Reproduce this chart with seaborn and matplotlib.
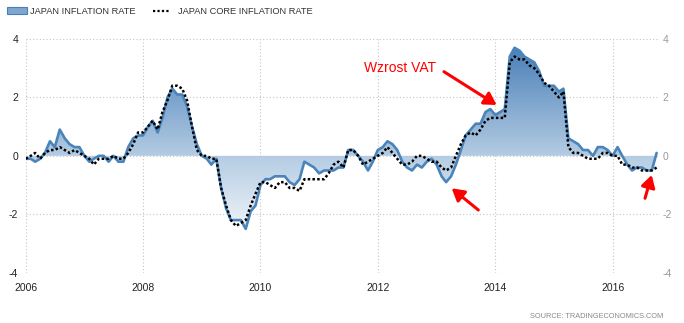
import numpy as np
import pandas as pd
import matplotlib
matplotlib.use("Agg")
import matplotlib.pyplot as plt
import matplotlib.dates as mdates
from matplotlib.colors import LinearSegmentedColormap
from matplotlib.lines import Line2D
from matplotlib.patches import Rectangle
import seaborn as sns

# ---------------- data (monthly, Jan 2006 .. Oct 2016) ----------------
start_month = "2006-01-01"
inflation = [
    -0.1, -0.1, -0.2, -0.1, 0.1, 0.5, 0.3, 0.9, 0.6, 0.4, 0.3, 0.3,      # 2006
    0.0, -0.2, -0.1, 0.0, 0.0, -0.2, 0.0, -0.2, -0.2, 0.3, 0.6, 0.7,     # 2007
    0.7, 1.0, 1.2, 0.8, 1.3, 2.0, 2.3, 2.1, 2.1, 1.7, 1.0, 0.4,          # 2008
    0.0, -0.1, -0.3, -0.1, -1.1, -1.8, -2.2, -2.2, -2.2, -2.5, -1.9, -1.7,  # 2009
    -1.0, -0.8, -0.8, -0.7, -0.7, -0.7, -0.9, -1.0, -0.8, -0.2, -0.3, -0.4,  # 2010
    -0.6, -0.5, -0.5, -0.5, -0.4, -0.4, 0.2, 0.2, 0.0, -0.2, -0.5, -0.2,  # 2011
    0.2, 0.3, 0.5, 0.4, 0.2, -0.2, -0.4, -0.5, -0.3, -0.4, -0.2, -0.1,   # 2012
    -0.3, -0.7, -0.9, -0.7, -0.3, 0.2, 0.7, 0.9, 1.1, 1.1, 1.5, 1.6,     # 2013
    1.4, 1.5, 1.6, 3.4, 3.7, 3.6, 3.4, 3.3, 3.2, 2.9, 2.4, 2.4,          # 2014
    2.4, 2.2, 2.3, 0.6, 0.5, 0.4, 0.2, 0.2, 0.0, 0.3, 0.3, 0.2,          # 2015
    0.0, 0.3, 0.0, -0.3, -0.5, -0.4, -0.4, -0.5, -0.5, 0.1,              # 2016
]
core_inflation = [
    -0.1, 0.0, 0.1, -0.1, 0.1, 0.2, 0.2, 0.3, 0.2, 0.1, 0.2, 0.1,        # 2006
    0.0, -0.1, -0.3, -0.1, -0.1, -0.1, 0.0, -0.1, -0.1, 0.1, 0.4, 0.8,   # 2007
    0.8, 1.0, 1.2, 0.9, 1.5, 1.9, 2.4, 2.4, 2.3, 1.9, 1.0, 0.2,          # 2008
    0.0, 0.0, -0.1, -0.1, -1.1, -1.7, -2.2, -2.4, -2.3, -2.2, -1.7, -1.3,  # 2009
    -0.9, -0.9, -1.0, -1.1, -0.9, -0.9, -1.1, -1.1, -1.2, -0.8, -0.8, -0.8,  # 2010
    -0.8, -0.8, -0.6, -0.3, -0.2, -0.4, 0.2, 0.2, 0.0, -0.3, -0.2, -0.1,  # 2011
    0.0, 0.1, 0.3, 0.1, -0.1, -0.3, -0.3, -0.2, 0.0, 0.0, -0.1, -0.2,    # 2012
    -0.2, -0.4, -0.5, -0.4, 0.0, 0.4, 0.7, 0.8, 0.7, 0.9, 1.2, 1.3,      # 2013
    1.3, 1.3, 1.3, 3.2, 3.4, 3.3, 3.3, 3.1, 3.0, 2.8, 2.5, 2.4,          # 2014
    2.2, 2.0, 2.2, 0.3, 0.1, 0.1, 0.0, -0.1, -0.1, -0.1, 0.1, 0.1,       # 2015
    0.0, 0.0, -0.3, -0.3, -0.4, -0.4, -0.5, -0.5, -0.5, -0.4,            # 2016
]
year_ticks = [2006, 2008, 2010, 2012, 2014, 2016]
y_ticks = [-4, -2, 0, 2, 4]
legend_labels = ["JAPAN INFLATION RATE", "JAPAN CORE INFLATION RATE"]
annotation_text = "Wzrost VAT"
source_text = "SOURCE: TRADINGECONOMICS.COM"

dates = pd.date_range(start_month, periods=len(inflation), freq="MS")
df = pd.DataFrame({"date": dates, "inflation": inflation, "core": core_inflation})

# ---------------- style ----------------
sns.set_style("white")
plt.rcParams["font.family"] = ["Liberation Sans", "DejaVu Sans"]

fig = plt.figure(figsize=(6.84, 3.23), dpi=100)
ax = fig.add_axes([25.7 / 684, 1 - 272.7 / 323, (660 - 25.7) / 684, (272.7 - 39) / 323])

blue = "#4a84ba"

# gradient area fill
fill = ax.fill_between(df["date"], df["inflation"], 0, facecolor="none", edgecolor="none")
cmap = LinearSegmentedColormap.from_list(
    "grad",
    [(0.0, "#ffffff"), (0.1875, "#eff4f9"), (0.5, "#b4cce3"),
     (0.75, "#7ba3cc"), (0.96, "#4b80b8"), (1.0, "#477cb4")],
)
x0 = mdates.date2num(pd.Timestamp("2006-01-01"))
x1 = mdates.date2num(pd.Timestamp("2016-10-22"))
grad = np.linspace(0, 1, 256).reshape(-1, 1)
im = ax.imshow(grad, extent=[x0, x1, -4, 4], origin="lower", aspect="auto",
               cmap=cmap, zorder=1, interpolation="bilinear")
im.set_clip_path(fill.get_paths()[0], transform=ax.transData)

sns.lineplot(data=df, x="date", y="inflation", color=blue, lw=1.9, ax=ax, zorder=3)
sns.lineplot(data=df, x="date", y="core", color="black", lw=1.8,
             linestyle=(0, (1, 0.9)), ax=ax, zorder=4)

ax.set_xlim(x0, x1)
ax.set_ylim(-4, 4)
ax.set_xlabel("")
ax.set_ylabel("")
ax.set_xticks([mdates.date2num(pd.Timestamp(f"{y}-01-01")) for y in year_ticks])
ax.set_xticklabels([str(y) for y in year_ticks])
ax.set_yticks(y_ticks)
ax.set_yticklabels([str(v) for v in y_ticks])
ax.grid(True, linestyle=(0, (1, 2)), color="#c4c4c4", lw=0.8, zorder=0)
ax.set_axisbelow(True)
for s in ax.spines.values():
    s.set_visible(False)
ax.tick_params(axis="x", length=4, width=0.8, color="#c4c4c4", labelsize=7.5,
               labelcolor="#222222", pad=3.5)
ax.tick_params(axis="y", length=0, labelsize=7.5, labelcolor="#222222", pad=5.5)

ax2 = ax.twinx()
ax2.set_ylim(-4, 4)
ax2.set_yticks(y_ticks)
ax2.set_yticklabels([str(v) for v in y_ticks])
ax2.tick_params(axis="y", length=0, labelsize=7.5, labelcolor="#9a9a9a", pad=2)
for s in ax2.spines.values():
    s.set_visible(False)

# annotations
arrow_style = dict(arrowstyle="-|>,head_length=0.6,head_width=0.35", color="#ff0000",
                   lw=2.2, mutation_scale=12, shrinkA=0, shrinkB=0)
ax.text(0.5334, 0.878, annotation_text, transform=ax.transAxes, color="#ff0000",
        fontsize=10, ha="left", va="center")
ax.annotate("", xy=(0.7425, 0.7176), xytext=(0.6594, 0.8601), xycoords="axes fraction",
            arrowprops=arrow_style)
ax.annotate("", xy=(0.6716, 0.3612), xytext=(0.7136, 0.2683), xycoords="axes fraction",
            arrowprops=arrow_style)
ax.annotate("", xy=(0.9869, 0.4181), xytext=(0.9764, 0.3184), xycoords="axes fraction",
            arrowprops=arrow_style)

# legend (manual)
fig.patches.append(Rectangle((7 / 684, 1 - 13.5 / 323), 20 / 684, 6.5 / 323,
                             transform=fig.transFigure, facecolor="#7ea6cf",
                             edgecolor="#4a80b8", lw=0.8))
fig.text(30 / 684, 1 - 11 / 323, legend_labels[0], fontsize=6.7, color="#333333",
         ha="left", va="center")
fig.lines.append(Line2D([153 / 684, 170 / 684], [1 - 10.5 / 323, 1 - 10.5 / 323],
                        transform=fig.transFigure, color="black", lw=1.6,
                        linestyle=(0, (1, 1))))
fig.text(178 / 684, 1 - 11 / 323, legend_labels[1], fontsize=6.7, color="#333333",
         ha="left", va="center")

fig.text(663 / 684, 1 - 316 / 323, source_text, fontsize=5.3, color="#8a8a8a",
         ha="right", va="center")

fig.savefig("out.png", dpi=100)
